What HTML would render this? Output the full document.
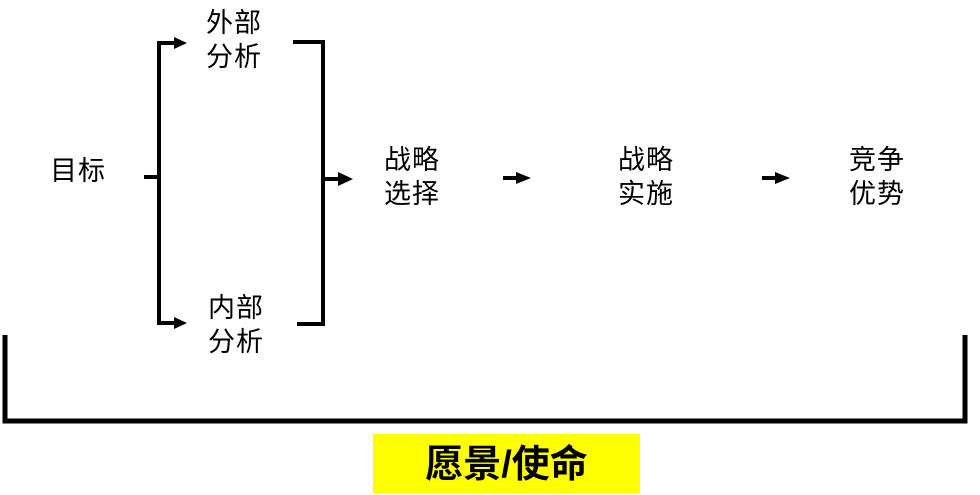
<!DOCTYPE html>
<html><head><meta charset="utf-8"><style>
html,body{margin:0;padding:0;background:#fff;width:980px;height:495px;overflow:hidden;position:relative;font-family:"Liberation Sans","Noto Sans CJK SC",sans-serif;}
.t{position:absolute;font-size:27px;line-height:34px;color:#000;white-space:nowrap;letter-spacing:1px;}
svg{position:absolute;left:0;top:0;}
</style></head><body>
<div class="t" style="left:50px;top:154px;">目标</div>
<div class="t" style="left:206px;top:6px;">外部<br>分析</div>
<div class="t" style="left:208px;top:291px;">内部<br>分析</div>
<div class="t" style="left:384px;top:143px;">战略<br>选择</div>
<div class="t" style="left:618px;top:143px;">战略<br>实施</div>
<div class="t" style="left:849px;top:143px;">竞争<br>优势</div>
<svg width="980" height="495">
<g stroke="#000" stroke-width="4" fill="none">
<line x1="144" y1="177" x2="159" y2="177"/>
<polyline points="176,43 159,43 159,323 176,323"/>
<polyline points="293,42 323,42 323,324 297,324"/>
<line x1="323" y1="179" x2="340" y2="179"/>
<line x1="503" y1="178" x2="518" y2="178"/>
<line x1="762" y1="178" x2="777" y2="178"/>
</g>
<g fill="#000">
<polygon points="174,37 187,43 174,49"/>
<polygon points="174,317 187,323 174,329"/>
<polygon points="338,172 353,179 338,186"/>
<polygon points="516,172 531,178 516,184"/>
<polygon points="775,172 790,178 775,184"/>
</g>
<g stroke="#000" stroke-width="5" fill="none">
<polyline points="5,335 5,421 965,421 965,335"/>
</g>
</svg>
<div style="position:absolute;left:373px;top:434px;width:267px;height:59px;background:#ffff00;"></div>
<div class="t" style="left:373px;top:436px;width:267px;height:59px;line-height:59px;text-align:center;font-size:38px;font-weight:bold;letter-spacing:0;">愿景/使命</div>
</body></html>
